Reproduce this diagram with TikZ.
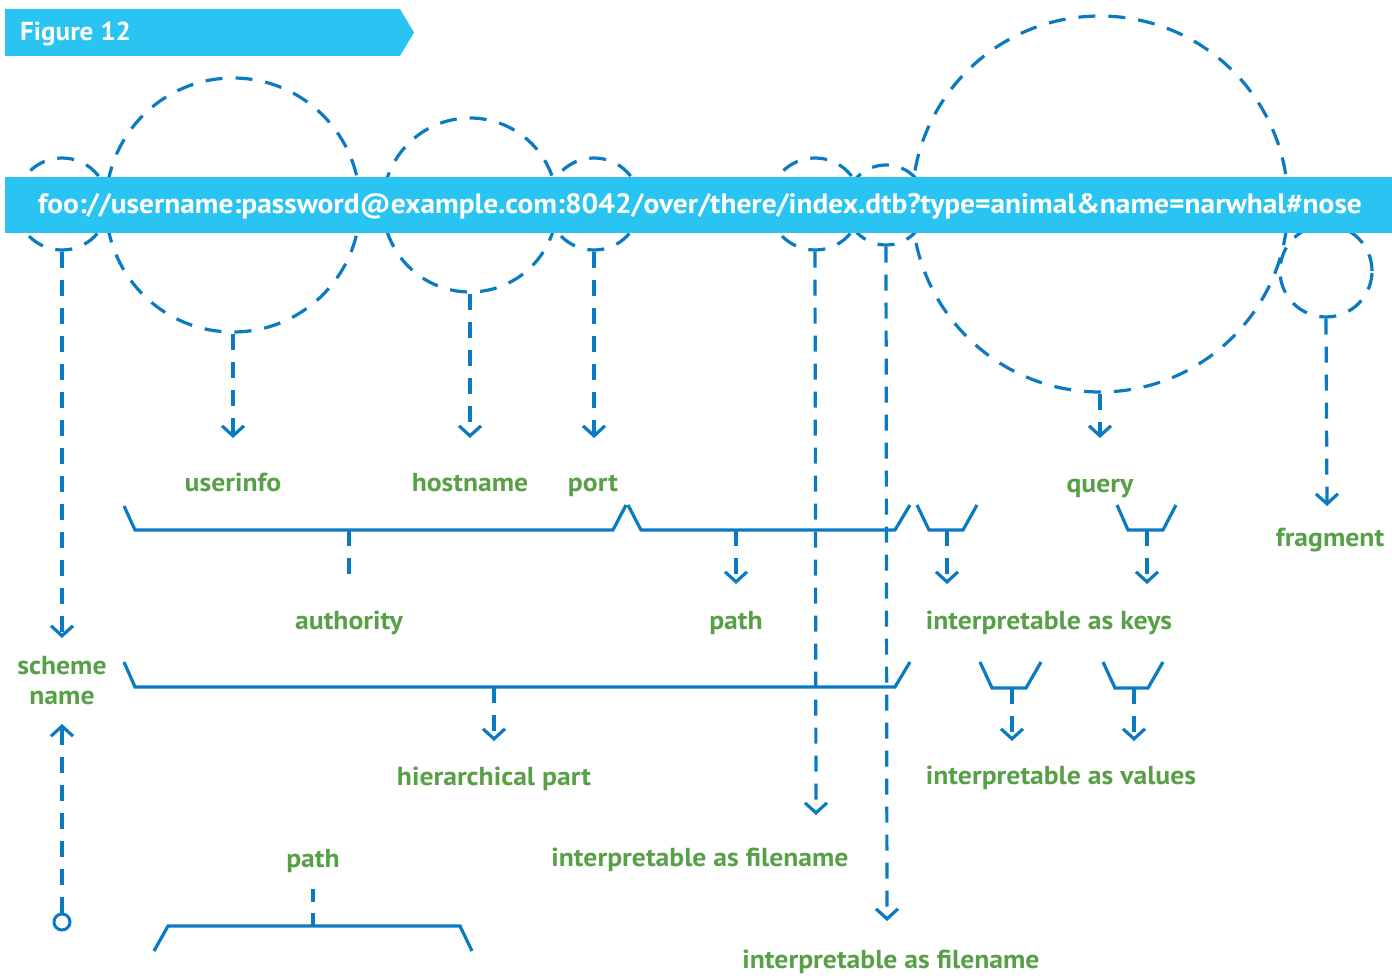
\documentclass[tikz,border=0pt]{standalone}
\usepackage{fontspec}
\setmainfont{PT Sans}
\newfontfamily\lblfont{PT Sans}[FakeStretch=1.065]
\newfontfamily\urlfont{PT Sans}[FakeStretch=1.05]
\newfontfamily\ttlfont{PT Sans}[FakeStretch=1.04]
\usetikzlibrary{arrows.meta}
\definecolor{barcyan}{HTML}{29C4F2}
\definecolor{dblue}{HTML}{0A7BC0}
\definecolor{lgreen}{HTML}{58A047}
\tikzset{
  dcirc/.style={circle, draw=dblue, line width=3.2pt, dash pattern=on 17pt off 13pt, inner sep=0pt},
  dline/.style={draw=dblue, line width=3.2pt, dash pattern=on 16pt off 12pt, -{Straight Barb[length=10pt,width=22pt]}},
  dplain/.style={draw=dblue, line width=3.2pt, dash pattern=on 16pt off 12pt},
  brk/.style={draw=dblue, line width=3.2pt, line join=miter},
  lbl/.style={text=lgreen, font=\lblfont\bfseries\fontsize{26}{30}\selectfont, anchor=base, inner sep=0pt},
}
\begin{document}
\begin{tikzpicture}[x=1pt,y=-1pt]
\useasboundingbox (0,0) rectangle (1392,976);
% title banner
\fill[barcyan] (5,9) -- (400,9) -- (414,32.5) -- (400,56) -- (5,56) -- cycle;
\node[text=white, font=\ttlfont\bfseries\fontsize{26}{28}\selectfont, anchor=base west, inner sep=0pt] (title) at (20,41) {Figure 12};
% circles
\node[dcirc, minimum size=92pt] (cs) at (62,204) {};
\node[dcirc, minimum size=254pt] (cu) at (233,205) {};
\node[dcirc, minimum size=174pt] (ch) at (470,205) {};
\node[dcirc, minimum size=92pt] (cp) at (594,204) {};
\node[dcirc, minimum size=92pt] (cf1) at (815,204) {};
\node[dcirc, minimum size=80pt] (cf2) at (886,205) {};
\node[dcirc, minimum size=376pt] (cq) at (1100,204) {};
\node[dcirc, minimum size=92pt] (cfr) at (1326,271) {};
% bar
\fill[barcyan] (5,177) rectangle (1392,233);
\node[text=white, font=\urlfont\bfseries\fontsize{28}{30}\selectfont, anchor=base, inner sep=0pt] (url) at (700,214) {foo://username:password@example.com:8042/over/there/index.dtb?type=animal\&name=narwhal\#nose};
% labels
\node[lbl] (luser) at (233,491) {userinfo};
\node[lbl] (lhost) at (470,491) {hostname};
\node[lbl] (lport) at (593,491) {port};
\node[lbl] (lquery) at (1100,492) {query};
\node[lbl] (lfrag) at (1330,546) {fragment};
\node[lbl] (lscheme) at (62,674) {scheme};
\node[lbl] (lname) at (62,704) {name};
\node[lbl] (lauth) at (349,629) {authority};
\node[lbl] (lpath) at (736,629) {path};
\node[lbl] (lkeys) at (1049,629) {interpretable as keys};
\node[lbl] (lhier) at (494,785) {hierarchical part};
\node[lbl] (lvals) at (1061,784) {interpretable as values};
\node[lbl] (lfn1) at (700,866) {interpretable as filename};
\node[lbl] (lpath2) at (313,867) {path};
\node[lbl] (lfn2) at (891,968) {interpretable as filename};
% arrow target coordinates
\coordinate (ts) at (62,638);
\coordinate (tu) at (233,438);
\coordinate (th) at (470,438);
\coordinate (tp) at (594,438);
\coordinate (tf1) at (816,815);
\coordinate (tf2) at (887,921);
\coordinate (tq) at (1100,438);
\coordinate (tfr) at (1327,506);
% circle connectors
\draw[dline] (cs.south) -- (ts);
\draw[dline] (cu.south) -- (tu);
\draw[dline] (ch.south) -- (th);
\draw[dline] (cp.south) -- (tp);
\draw[dline] (cq.south) -- (tq);
\draw[dline] (cfr.south) -- (tfr);
% brackets
\coordinate (ba) at (349,530);
\draw[brk] (124,506) -- (135,530) -- (613,530) -- (626,505);
\coordinate (bp) at (736,530);
\draw[brk] (628,505) -- (641,530) -- (895,530) -- (910,505);
\coordinate (bk1) at (947,530);
\draw[brk] (917,505) -- (929,530) -- (963,530) -- (977,505);
\coordinate (bk2) at (1147,530);
\draw[brk] (1117,505) -- (1128,530) -- (1163,530) -- (1176,505);
\coordinate (bh) at (494,687);
\draw[brk] (124,662) -- (135,687) -- (895,687) -- (910,662);
\coordinate (bv1) at (1012,688);
\draw[brk] (980,662) -- (992,688) -- (1026,688) -- (1041,662);
\coordinate (bv2) at (1134,688);
\draw[brk] (1103,662) -- (1115,688) -- (1148,688) -- (1163,662);
\coordinate (bb) at (313,926);
\draw[brk] (154,951) -- (168,926) -- (460,926) -- (472,951);
% bracket stems
\coordinate (ea) at (349,585);
\draw[dplain] (ba) -- (ea);
\coordinate (ep) at (736,584);
\draw[dline] (bp) -- (ep);
\coordinate (ek1) at (947,584);
\draw[dline] (bk1) -- (ek1);
\coordinate (ek2) at (1147,584);
\draw[dline] (bk2) -- (ek2);
\coordinate (eh) at (494,741);
\draw[dline] (bh) -- (eh);
\coordinate (ev1) at (1012,741);
\draw[dline] (bv1) -- (ev1);
\coordinate (ev2) at (1134,741);
\draw[dline] (bv2) -- (ev2);
\coordinate (eb) at (313,889);
\draw[dash pattern=on 13pt off 11pt, draw=dblue, line width=3.2pt] (bb) -- (eb);
% filename lines
\draw[dline] (cf1.south) -- (tf1);
\draw[dline] (cf2.south) -- (tf2);
% scheme bottom
\node[circle, draw=dblue, line width=3pt, minimum size=16pt, inner sep=0pt] (sc) at (62,922) {};
\coordinate (tsu) at (62,724);
\draw[dline] (sc.north) -- (tsu);
\end{tikzpicture}
\end{document}
